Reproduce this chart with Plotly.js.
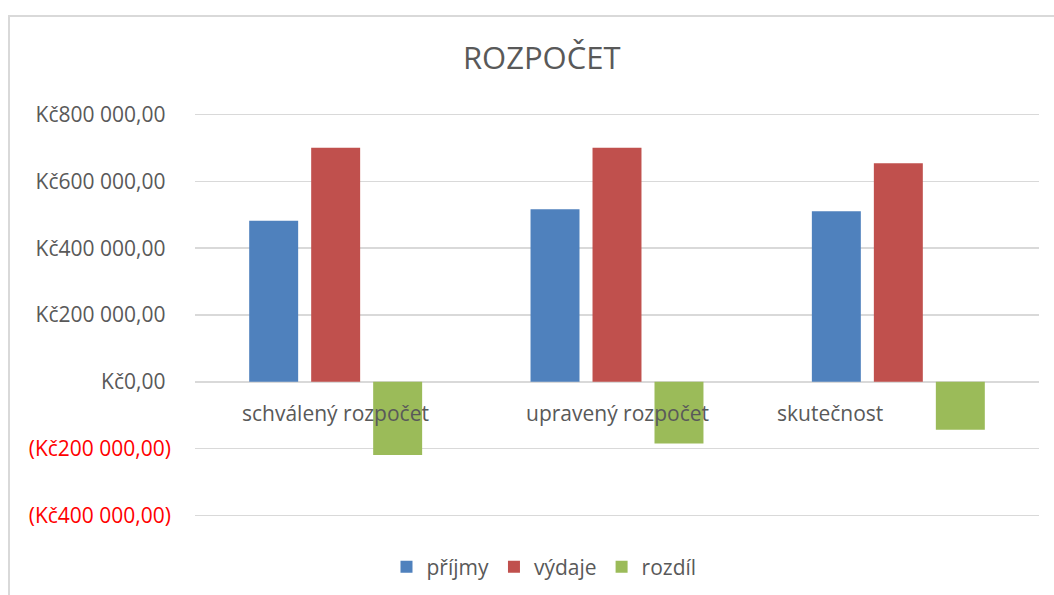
<!DOCTYPE html>
<html>
<head>
<meta charset="utf-8">
<script src="https://cdn.plot.ly/plotly-3.0.1.min.js"></script>
<style>
  html, body { margin: 0; padding: 0; background: #ffffff; }
  #chart { position: absolute; left: 0; top: 0; width: 1054px; height: 595px; }
  #frame { position: absolute; left: 8px; top: 15px; right: 0; bottom: 0;
           border-left: 2px solid #d9d9d9; border-top: 2px solid #d9d9d9; pointer-events: none; }
</style>
</head>
<body>
<div id="chart"></div>
<div id="frame"></div>
<script>
// ---- data ----
const categories = ["schválený rozpočet", "upravený rozpočet", "skutečnost"];
const seriesNames = ["příjmy", "výdaje", "rozdíl"];
const prijmy = [482000, 516500, 511000];
const vydaje = [701000, 701000, 654500];
const rozdil = [-219000, -184500, -143500];
const tickValues = [-400000, -200000, 0, 200000, 400000, 600000, 800000];
const tickLabels = ["(Kč400 000,00)", "(Kč200 000,00)", "Kč0,00", "Kč200 000,00", "Kč400 000,00", "Kč600 000,00", "Kč800 000,00"];
const chartTitle = "ROZPOČET";

// ---- styling ----
const FONT = "Open Sans, Lato, sans-serif";
const GREY = "#595959";
const colors = ["#4f81bd", "#c0504d", "#9bbb59"];
const values = [prijmy, vydaje, rozdil];

const traces = seriesNames.map((name, i) => ({
  type: "bar",
  name: name,
  x: categories,
  y: values[i],
  marker: { color: colors[i], line: { width: 0 } },
  hoverinfo: "skip"
}));

const ticktext = tickLabels.map((t, i) =>
  tickValues[i] < 0 ? "<span style='color:#ff0000'>" + t + "</span>" : t + "\u2008");

const catShift = [0, 0, -68];
const annotations = categories.map((c, i) => ({
  x: c, y: 0, xref: "x", yref: "y",
  text: c, showarrow: false,
  xanchor: "center", yanchor: "middle",
  xshift: catShift[i], yshift: -31,
  font: { family: FONT, size: 21, color: GREY }
}));

const layout = {
  width: 1054, height: 595,
  margin: { l: 195, r: 15, t: 113, b: 78, pad: 0, autoexpand: false },
  paper_bgcolor: "#ffffff", plot_bgcolor: "#ffffff",
  title: {
    text: chartTitle,
    x: 0.514, xref: "container", xanchor: "center",
    y: 0.902, yref: "container", yanchor: "middle",
    font: { family: FONT, size: 31, color: GREY }
  },
  barmode: "group",
  bargap: 0.339,
  bargroupgap: 0.21,
  xaxis: {
    type: "category",
    showticklabels: false,
    showgrid: false, zeroline: false, showline: false, ticks: ""
  },
  yaxis: {
    range: [-405000, 805000],
    tickmode: "array",
    tickvals: tickValues,
    ticktext: ticktext,
    showgrid: true, gridcolor: "#d9d9d9", gridwidth: 1.5,
    zeroline: true, zerolinecolor: "#d9d9d9", zerolinewidth: 1.5,
    showline: false, ticks: "",
    ticklabelstandoff: 23,
    tickfont: { family: FONT, size: 21, color: GREY }
  },
  showlegend: true,
  legend: {
    orientation: "h",
    x: 0.4135, xanchor: "center",
    y: -0.124, yanchor: "middle",
    font: { family: FONT, size: 21, color: GREY },
    bgcolor: "rgba(0,0,0,0)"
  },
  annotations: annotations
};

Plotly.newPlot("chart", traces, layout, { staticPlot: true, displayModeBar: false });
</script>
</body>
</html>
